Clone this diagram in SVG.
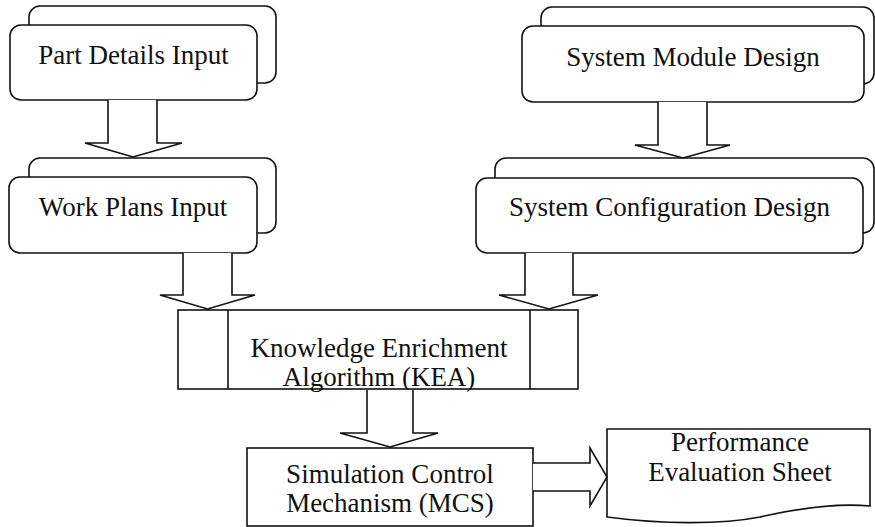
<svg xmlns="http://www.w3.org/2000/svg" width="875" height="527" viewBox="0 0 875 527">
<style>
.b{fill:#fff;stroke:#111;stroke-width:1.6}
.a{fill:#fff;stroke:#111;stroke-width:1.6;stroke-linejoin:miter}
.t{font-family:"Liberation Serif","Times New Roman",serif;font-size:27px;fill:#111;text-anchor:middle}
</style>
<rect width="875" height="527" fill="#fff"/>
<g id="part-details">
<rect class="b" x="29" y="6" width="247" height="77" rx="11"/>
<rect class="b" x="10" y="25" width="247" height="75" rx="11"/>
<text class="t" x="133.5" y="64">Part Details Input</text>
</g>
<g id="work-plans">
<rect class="b" x="29" y="158" width="247" height="75" rx="11"/>
<rect class="b" x="9" y="177" width="248" height="76" rx="11"/>
<text class="t" x="133" y="216">Work Plans Input</text>
</g>
<g id="system-module">
<rect class="b" x="541" y="7" width="333" height="77" rx="11"/>
<rect class="b" x="522" y="26" width="342" height="76" rx="11"/>
<text class="t" x="693" y="66">System Module Design</text>
</g>
<g id="system-config">
<rect class="b" x="495" y="158" width="379" height="75" rx="11"/>
<rect class="b" x="476" y="178" width="387" height="75" rx="11"/>
<text class="t" x="669.5" y="216">System Configuration Design</text>
</g>
<g id="kea">
<rect class="b" x="178" y="310" width="400" height="79"/>
<line class="b" x1="228" y1="310" x2="228" y2="389"/>
<line class="b" x1="530" y1="310" x2="530" y2="389"/>
<text class="t" x="379" y="357">Knowledge Enrichment</text>
<text class="t" x="379" y="386">Algorithm (KEA)</text>
</g>
<g id="mcs">
<rect class="b" x="247" y="448" width="286" height="78"/>
<text class="t" x="390" y="483">Simulation Control</text>
<text class="t" x="390" y="512">Mechanism (MCS)</text>
</g>
<g id="performance">
<path class="b" d="M607,429 H870 V506 C840,503 800,508 760,517 C720,525 660,524 607,517 Z"/>
<text class="t" x="740" y="451">Performance</text>
<text class="t" x="740" y="481">Evaluation Sheet</text>
</g>
<g id="connectors">
<path class="a" d="M108,100 V143 H85 L133,157 L182,143 H157 V100"/>
<path class="a" d="M183,253 V295 H160 L207.5,309 L255,295 H232 V253"/>
<path class="a" d="M658,102 V145 H635 L683,158 L730,145 H707 V102"/>
<path class="a" d="M525,253 V295 H499 L549,309 L598,295 H573 V253"/>
<path class="a" d="M367,390 V433 H340 L390,447 L438,433 H413 V390"/>
<path class="a" d="M533,463 H590 V448 L607,477 L590,506 V491 H533"/>
</g>
</svg>
